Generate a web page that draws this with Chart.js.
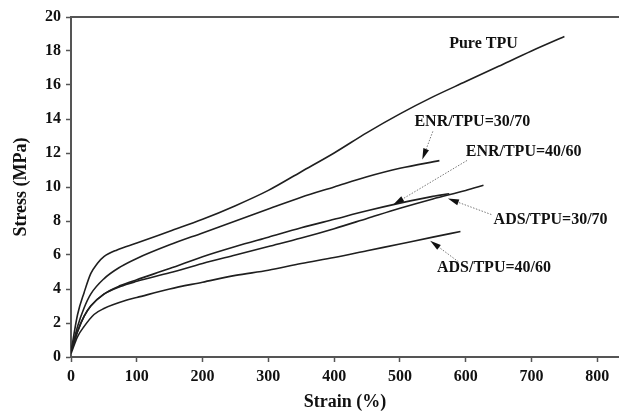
<!DOCTYPE html>
<html lang="en">
  <head>
    <meta charset="UTF-8" />
    <title>Stress-Strain</title>
    <script src="https://cdn.jsdelivr.net/npm/chart.js"></script>
    <style>
      html, body { margin: 0; padding: 0; background: #fff; }
      #wrap { width: 619px; height: 415px; }
    </style>
  </head>
  <body>
    <div id="wrap"><canvas id="chart" width="619" height="415"></canvas></div>
    <script>
      // axis ticks
      const strainTicks = [0, 100, 200, 300, 400, 500, 600, 700, 800];
      const stressTicks = [0, 2, 4, 6, 8, 10, 12, 14, 16, 18, 20];

      // curves (strain %, stress MPa)
      const pureStrain = [0, 10, 20, 30, 40, 50, 70, 100, 150, 200, 250, 300, 350, 400, 450, 500, 550, 600, 650, 700, 750];
      const pureStress = [0.3, 2.5, 3.8, 4.9, 5.5, 5.9, 6.3, 6.7, 7.4, 8.1, 8.9, 9.8, 10.9, 12.0, 13.2, 14.3, 15.3, 16.2, 17.1, 18.0, 18.85];

      const enr3070Strain = [0, 10, 20, 30, 50, 75, 100, 150, 200, 250, 300, 350, 400, 450, 500, 560];
      const enr3070Stress = [0.3, 1.8, 2.9, 3.7, 4.6, 5.3, 5.8, 6.6, 7.3, 8.0, 8.7, 9.4, 10.0, 10.6, 11.1, 11.55];

      const enr4060Strain = [0, 10, 20, 30, 50, 75, 100, 150, 200, 250, 300, 350, 400, 450, 500, 550, 575];
      const enr4060Stress = [0.3, 1.5, 2.4, 3.0, 3.7, 4.2, 4.55, 5.2, 5.9, 6.5, 7.05, 7.6, 8.1, 8.6, 9.05, 9.45, 9.6];

      const ads3070Strain = [0, 10, 20, 30, 50, 75, 100, 150, 200, 250, 300, 350, 400, 450, 500, 550, 600, 627];
      const ads3070Stress = [0.3, 1.5, 2.4, 3.0, 3.7, 4.15, 4.45, 4.95, 5.5, 6.0, 6.5, 7.0, 7.55, 8.15, 8.75, 9.3, 9.8, 10.1];

      const ads4060Strain = [0, 10, 20, 35, 50, 85, 100, 150, 200, 250, 300, 350, 400, 450, 500, 550, 592];
      const ads4060Stress = [0.2, 1.2, 1.8, 2.5, 2.85, 3.35, 3.5, 4.0, 4.4, 4.8, 5.1, 5.5, 5.85, 6.25, 6.65, 7.05, 7.38];

      const seriesNames = ["Pure TPU", "ENR/TPU=30/70", "ENR/TPU=40/60", "ADS/TPU=30/70", "ADS/TPU=40/60"];

      function toPoints(xs, ys) {
        return xs.map((x, i) => ({ x: x, y: ys[i] }));
      }

      const curves = [
        toPoints(pureStrain, pureStress),
        toPoints(enr3070Strain, enr3070Stress),
        toPoints(enr4060Strain, enr4060Stress),
        toPoints(ads3070Strain, ads3070Stress),
        toPoints(ads4060Strain, ads4060Stress),
      ];

      // label text positions and arrows, in data units
      const notes = [
        { text: "Pure TPU", at: [627, 18.4] },
        { text: "ENR/TPU=30/70", at: [610, 13.86], from: [550, 13.27], to: [534, 11.62] },
        { text: "ENR/TPU=40/60", at: [688, 12.04], from: [602, 11.56], to: [490, 8.97] },
        { text: "ADS/TPU=30/70", at: [729, 8.08], from: [639, 8.38], to: [573, 9.32] },
        { text: "ADS/TPU=40/60", at: [643, 5.25], from: [589, 5.6], to: [546, 6.84] },
      ];

      const serif = "'Liberation Serif', 'Times New Roman', serif";

      const notesPlugin = {
        id: "notes",
        afterDatasetsDraw(chart) {
          const ctx = chart.ctx;
          const xs = chart.scales.x;
          const ys = chart.scales.y;
          ctx.save();
          notes.forEach((n) => {
            if (n.from) {
              const x1 = xs.getPixelForValue(n.from[0]);
              const y1 = ys.getPixelForValue(n.from[1]);
              const x2 = xs.getPixelForValue(n.to[0]);
              const y2 = ys.getPixelForValue(n.to[1]);
              const ang = Math.atan2(y2 - y1, x2 - x1);
              const headLen = 11;
              const hx = x2 - headLen * Math.cos(ang);
              const hy = y2 - headLen * Math.sin(ang);
              // dotted shaft
              ctx.strokeStyle = "#777";
              ctx.lineWidth = 1;
              ctx.setLineDash([1.5, 1.5]);
              ctx.beginPath();
              ctx.moveTo(x1, y1);
              ctx.lineTo(hx, hy);
              ctx.stroke();
              ctx.setLineDash([]);
              // head
              ctx.fillStyle = "#111";
              ctx.beginPath();
              ctx.moveTo(x2, y2);
              ctx.lineTo(hx + 3 * Math.sin(ang), hy - 3 * Math.cos(ang));
              ctx.lineTo(hx - 3 * Math.sin(ang), hy + 3 * Math.cos(ang));
              ctx.closePath();
              ctx.fill();
            }
            ctx.fillStyle = "#111";
            ctx.font = "bold 16px " + serif;
            ctx.textAlign = "center";
            ctx.textBaseline = "middle";
            ctx.fillText(n.text, xs.getPixelForValue(n.at[0]), ys.getPixelForValue(n.at[1]));
          });
          ctx.restore();
        },
      };

      const axisColor = "#555";

      new Chart(document.getElementById("chart"), {
        type: "line",
        data: {
          datasets: curves.map((pts, i) => ({
            label: seriesNames[i],
            data: pts,
            borderColor: "#1f1f1f",
            borderWidth: 1.6,
            pointRadius: 0,
            fill: false,
            cubicInterpolationMode: "monotone",
          })),
        },
        options: {
          responsive: false,
          animation: false,
          layout: { padding: 0 },
          plugins: {
            legend: { display: false },
            tooltip: { enabled: false },
          },
          scales: {
            x: {
              type: "linear",
              min: 0,
              max: 833,
              afterFit: (s) => { s.height = 58; },
              afterBuildTicks: (s) => { s.ticks = strainTicks.map((v) => ({ value: v })); },
              grid: { drawOnChartArea: false, drawTicks: true, tickLength: 5, tickColor: axisColor, tickWidth: 1.5 },
              border: { color: axisColor, width: 2 },
              ticks: { color: "#111", padding: 5, font: { family: serif, size: 16, weight: "bold" } },
              title: {
                display: true,
                text: "Strain (%)",
                color: "#111",
                padding: { top: 0, bottom: 2 },
                font: { family: serif, size: 18, weight: "bold" },
              },
            },
            x2: {
              type: "linear",
              position: "top",
              min: 0,
              max: 833,
              afterFit: (s) => { s.height = 17; },
              grid: { drawOnChartArea: false, drawTicks: false },
              border: { color: axisColor, width: 2 },
              ticks: { display: false },
            },
            y: {
              type: "linear",
              min: 0,
              max: 20,
              afterFit: (s) => { s.width = 71; },
              afterBuildTicks: (s) => { s.ticks = stressTicks.map((v) => ({ value: v })); },
              grid: { drawOnChartArea: false, drawTicks: true, tickLength: 5, tickColor: axisColor, tickWidth: 1.5 },
              border: { color: axisColor, width: 2 },
              ticks: { color: "#111", padding: 5, font: { family: serif, size: 16, weight: "bold" } },
              title: {
                display: true,
                text: "Stress (MPa)",
                color: "#111",
                padding: { top: 11, bottom: 0 },
                font: { family: serif, size: 18, weight: "bold" },
              },
            },
          },
        },
        plugins: [notesPlugin],
      });
    </script>
  </body>
</html>
